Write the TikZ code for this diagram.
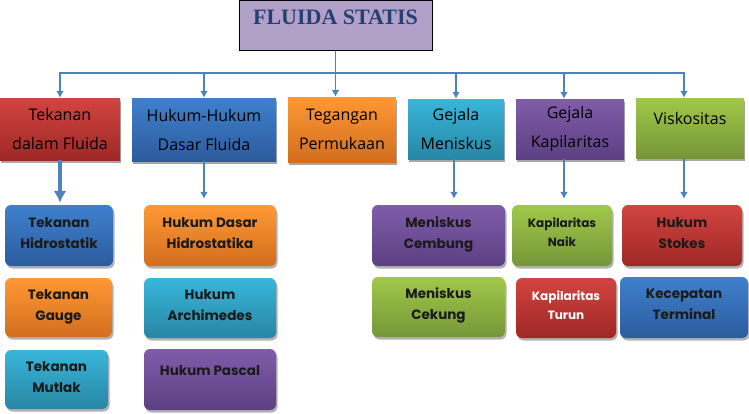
\documentclass[tikz,border=0pt]{standalone}
\usepackage{fontspec}
\usetikzlibrary{arrows.meta,shadows}
\newfontfamily\comicf{Open Sans}
\newfontfamily\gothf{Poppins}
\newfontfamily\titlef{Liberation Serif}
\definecolor{redT}{RGB}{210,68,64}\definecolor{redB}{RGB}{158,40,38}
\definecolor{bluT}{RGB}{62,128,205}\definecolor{bluB}{RGB}{44,92,157}
\definecolor{oraT}{RGB}{255,152,52}\definecolor{oraB}{RGB}{210,110,30}
\definecolor{cyaT}{RGB}{56,182,218}\definecolor{cyaB}{RGB}{40,134,164}
\definecolor{purT}{RGB}{128,92,170}\definecolor{purB}{RGB}{92,64,130}
\definecolor{greT}{RGB}{160,200,72}\definecolor{greB}{RGB}{118,150,56}
\definecolor{lavender}{RGB}{177,160,199}
\definecolor{titleblue}{RGB}{38,64,115}
\definecolor{arrowblue}{RGB}{79,129,189}
\definecolor{darktext}{RGB}{26,26,26}
\begin{document}
\begin{tikzpicture}[x=1pt,y=-1pt,
  topbox/.style={align=center,inner sep=0pt,font=\comicf\fontsize{16}{29}\selectfont,
     drop shadow={shadow xshift=1pt,shadow yshift=-3pt,fill=black,opacity=0.35}},
  subbox/.style={align=center,inner sep=0pt,rounded corners=6pt,text depth=6pt,
     font=\gothf\bfseries\fontsize{13.5}{21}\selectfont,text=darktext,
     drop shadow={shadow xshift=1.5pt,shadow yshift=-2.5pt,fill=black,opacity=0.3}},
  smallsub/.style={font=\gothf\bfseries\fontsize{12}{19}\selectfont},
  cred/.style={top color=redT,bottom color=redB},
  cblue/.style={top color=bluT,bottom color=bluB},
  corange/.style={top color=oraT,bottom color=oraB},
  ccyan/.style={top color=cyaT,bottom color=cyaB},
  cpurple/.style={top color=purT,bottom color=purB},
  cgreen/.style={top color=greT,bottom color=greB},
  conn/.style={draw=arrowblue,line width=1.6pt},
  arr/.style={conn,-{Latex[length=7pt,width=8pt]}},
  arrthick/.style={draw=arrowblue,line width=3.5pt,-{Latex[length=12pt,width=13pt]}},
]
\useasboundingbox (0,0) rectangle (749,413);

% root
\node[draw=black,line width=1pt,fill=lavender,minimum width=193pt,minimum height=50pt,
  text depth=17pt,inner sep=0pt,font=\titlef\bfseries\fontsize{22}{25}\selectfont,text=titleblue]
  (root) at (335.5,25.5) {FLUIDA STATIS};

% first row
\node[topbox,cred,minimum width=120pt,minimum height=62pt] (t1) at (60,129) {Tekanan\\dalam Fluida};
\node[topbox,cblue,minimum width=144pt,minimum height=63pt] (t2) at (204,129.5) {Hukum-Hukum\\Dasar Fluida};
\node[topbox,corange,minimum width=108pt,minimum height=65pt] (t3) at (342,129.5) {Tegangan\\Permukaan};
\node[topbox,ccyan,minimum width=96pt,minimum height=60pt] (t4) at (456,129) {Gejala\\Meniskus};
\node[topbox,cpurple,minimum width=108pt,minimum height=60pt] (t5) at (570,129) {Gejala\\Kapilaritas};
\node[topbox,cgreen,minimum width=108pt,minimum height=60pt] (t6) at (690,128) {Viskositas\\[-10pt]\mbox{}};

% lower boxes
\node[subbox,cblue,minimum width=108pt,minimum height=61pt] (a1) at (59,235.5) {Tekanan\\Hidrostatik};
\node[subbox,corange,minimum width=107pt,minimum height=59pt] (a2) at (58.5,307.5) {Tekanan\\Gauge};
\node[subbox,ccyan,minimum width=103pt,minimum height=59pt] (a3) at (56.5,379.5) {Tekanan\\Mutlak};
\node[subbox,corange,minimum width=132pt,minimum height=61pt] (b1) at (210,235.5) {Hukum Dasar\\Hidrostatika};
\node[subbox,ccyan,minimum width=132pt,minimum height=60pt] (b2) at (210,308) {Hukum\\Archimedes};
\node[subbox,cpurple,minimum width=132pt,minimum height=61pt] (b3) at (210,379.5) {Hukum Pascal\\[-8pt]\mbox{}};
\node[subbox,cpurple,minimum width=133pt,minimum height=61pt] (c1) at (438.5,235.5) {Meniskus\\Cembung};
\node[subbox,cgreen,minimum width=133pt,minimum height=60pt] (c2) at (438.5,307) {Meniskus\\Cekung};
\node[subbox,smallsub,cgreen,minimum width=100pt,minimum height=61pt] (d1) at (562,235.5) {Kapilaritas\\Naik};
\node[subbox,smallsub,cred,text=white,minimum width=100pt,minimum height=60pt] (d2) at (566,308) {Kapilaritas\\Turun};
\node[subbox,cred,minimum width=120pt,minimum height=61pt] (e1) at (682,235.5) {Hukum\\Stokes};
\node[subbox,cblue,minimum width=128pt,minimum height=61pt] (e2) at (684,307.5) {Kecepatan\\Terminal};

% connectors from root
\coordinate (bus) at (335.5,73);
\draw[conn] (root.south) -- (bus);
\draw[arr] (bus) -| (t1.north);
\draw[arr] (bus) -| (t2.north);
\draw[arr] (root.south) -- ([xshift=-6.5pt]t3.north);
\draw[arr] (bus) -| (t4.north);
\draw[arr] (bus) -| ([xshift=-6pt]t5.north);
\draw[arr] (bus) -| ([xshift=-6pt]t6.north);

% connectors to lower boxes
\draw[arrthick,shorten >=2pt] (t1.south) -- (t1.south|-a1.north);
\draw[arr,shorten >=6pt] (t2.south) -- (t2.south|-b1.north);
\draw[arr,shorten >=6pt] ([xshift=-2pt]t4.south) -- ([xshift=-2pt]t4.south|-c1.north);
\draw[arr,shorten >=6pt] ([xshift=-6pt]t5.south) -- ([xshift=-6pt]t5.south|-d1.north);
\draw[arr,shorten >=6pt] ([xshift=-6pt]t6.south) -- ([xshift=-6pt]t6.south|-e1.north);
\end{tikzpicture}
\end{document}
